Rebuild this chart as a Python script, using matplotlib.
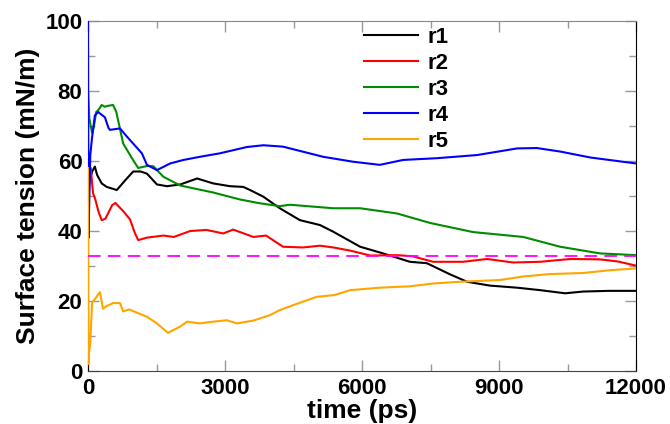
#!/usr/bin/env python3
"""Surface tension against time for five replicas r1..r5, with the
reference value drawn as a dashed magenta line."""
import matplotlib
matplotlib.use("Agg")
import matplotlib.pyplot as plt

# values, time in ps, tension in mN/m
t_r1 = [0, 20, 50, 90, 150, 200, 300, 410, 630, 850, 990, 1150, 1290, 1510,
        1730, 2020, 2390, 2740, 3110, 3400, 3550, 3840, 4200, 4640, 5080, 5370,
        5960, 6460, 7050, 7420, 7930, 8300, 8800, 9400, 9900, 10450, 10840,
        11400, 12000]
r1 = [61, 57, 55, 57, 58.4, 56, 53.6, 52.6, 51.7, 55, 57, 57, 56.4, 53.3,
      52.8, 53.3, 55, 53.6, 52.8, 52.6, 51.7, 49.8, 46.5, 43.1, 41.7, 39.8,
      35.5, 33.6, 31.2, 30.8, 27.6, 25.5, 24.4, 23.8, 23.1, 22.2, 22.7,
      22.9, 22.9]

t_r2 = [0, 20, 60, 110, 160, 230, 300, 380, 530, 600, 770, 920, 1030, 1100,
        1290, 1650, 1880, 2240, 2600, 2960, 3180, 3620, 3900, 4270, 4710, 5080,
        5370, 5740, 6180, 6770, 7100, 7560, 8210, 8740, 9310, 9900, 10560,
        11200, 11600, 12000]
r2 = [38, 52, 58, 50.8, 49, 45.5, 43.1, 43.5, 47.4, 48, 45.7, 43.3, 39.3, 37.4,
      38.1, 38.7, 38.3, 40, 40.3, 39.3, 40.4, 38.3, 38.7, 35.5, 35.3, 35.8,
      35.3, 34.4, 33, 33.1, 32.8, 31.2, 31.2, 32, 31, 31.2, 32,
      31.9, 31.3, 30.1]

t_r3 = [0, 30, 90, 130, 180, 230, 300, 370, 450, 550, 620, 770, 1000, 1100,
        1300, 1430, 1650, 2020, 2740, 3330, 3770, 4200, 4420, 5370, 5960, 6770,
        7490, 8430, 9530, 10340, 11210, 12000]
r3 = [80, 72, 68, 70, 74, 74.6, 76, 75.5, 75.8, 76, 74, 65, 60, 58,
      58.6, 58.5, 55.5, 53, 51, 49, 47.9, 47.1, 47.5, 46.5, 46.5, 45,
      42.3, 39.7, 38.3, 35.5, 33.6, 33.1]

t_r4 = [0, 10, 50, 88, 150, 220, 260, 370, 450, 480, 700, 850, 1180, 1290,
        1510, 1800, 2090, 2450, 2890, 3480, 3840, 4270, 5150, 5800, 6390, 6900,
        7640, 8520, 9400, 9830, 10340, 11000, 12000]
r4 = [100, 38, 61.7, 66.6, 73, 74, 73.6, 72.5, 69.4, 68.9, 69.3, 67, 62.2, 58.9,
      57.4, 59.3, 60.3, 61.2, 62.2, 64, 64.5, 64.1, 61.2, 59.8, 58.9, 60.3,
      60.8, 61.7, 63.6, 63.7, 62.7, 61, 59.3]

t_r5 = [0, 10, 20, 50, 90, 150, 230, 260, 330, 400, 550, 700, 770, 900, 1290,
        1510, 1750, 2020, 2170, 2450, 2740, 3040, 3260, 3620, 3990, 4200, 4490,
        5010, 5400, 5740, 6390, 7050, 7560, 8150, 9020, 9530, 10120, 10840,
        11430, 12000]
r5 = [58, 2, 5, 8.2, 19.6, 20.5, 22, 22.5, 17.8, 18.5, 19.4, 19.4, 17, 17.6, 15.5,
      13.6, 10.9, 12.7, 14.1, 13.6, 14.1, 14.5, 13.6, 14.4, 16, 17.4, 18.8,
      21.2, 21.7, 23.1, 23.8, 24.2, 25, 25.5, 26, 27, 27.7, 28,
      28.8, 29.3]

REF_TENSION = 33.0
T_MAX = 12000

SERIES = [
    ("r1", t_r1, r1, "black"),
    ("r2", t_r2, r2, "#ff0000"),
    ("r3", t_r3, r3, "#008c00"),
    ("r4", t_r4, r4, "#0000ff"),
    ("r5", t_r5, r5, "#ffa500"),
]


def main():
    plt.rcParams.update({
        "font.family": ["Liberation Sans", "DejaVu Sans"],
        "font.weight": "bold",
        "axes.labelweight": "bold",
    })

    fig = plt.figure(figsize=(6.7, 4.24), dpi=100)
    ax = fig.add_axes([88 / 670, 53 / 424, 548 / 670, 350 / 424])

    for label, t, v, color in SERIES:
        ax.plot(t, v, color=color, lw=1.5, label=label, zorder=3)
    ax.plot([0, T_MAX], [REF_TENSION, REF_TENSION], color="#ff00ff", lw=1.3,
            ls=(0, (7, 4)), zorder=3)

    ax.set_xlim(0, T_MAX)
    ax.set_ylim(0, 100)
    ax.set_xticks(range(0, 12001, 3000))
    ax.set_xticks(range(0, 12001, 1500), minor=True)
    ax.set_yticks(range(0, 101, 20))
    ax.set_yticks(range(0, 101, 10), minor=True)
    ax.tick_params(which="both", direction="in", top=True, right=True,
                   color="#999999", width=1)
    ax.tick_params(which="major", length=8, labelsize=16, pad=5)
    ax.tick_params(which="minor", length=5)
    ax.tick_params(axis="y", which="major", pad=4)

    for side in ("left", "right", "bottom"):
        ax.spines[side].set_color("black")
    ax.spines["top"].set_color("#888888")
    ax.spines["bottom"].set_color("#444444")

    ax.set_xlabel("time (ps)", fontsize=19, labelpad=0)
    ax.set_ylabel("Surface tension (mN/m)", fontsize=19, labelpad=4)

    ax.legend(loc="upper left", bbox_to_anchor=(364 / 670, 1 - 27 / 424),
              bbox_transform=fig.transFigure, frameon=False, fontsize=16,
              handlelength=2.45, handletextpad=0.4, borderpad=0,
              borderaxespad=0, labelspacing=0.22)

    fig.savefig("out.png", dpi=100)
    plt.close(fig)


if __name__ == "__main__":
    main()
